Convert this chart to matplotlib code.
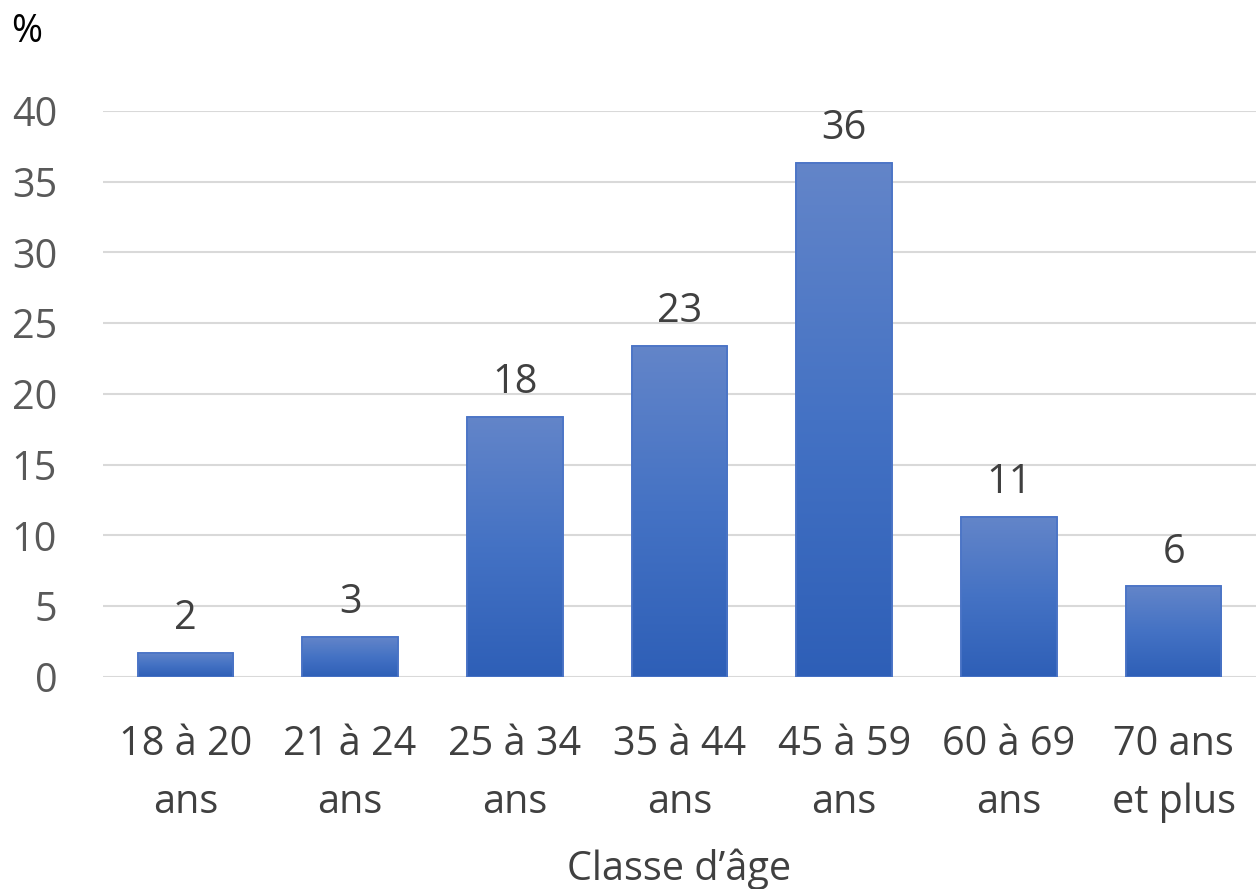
import numpy as np
import matplotlib.pyplot as plt
from matplotlib.colors import LinearSegmentedColormap

plt.rcParams['font.family'] = ['Open Sans', 'DejaVu Sans']

categories = ['18 à 20\nans', '21 à 24\nans', '25 à 34\nans', '35 à 44\nans',
              '45 à 59\nans', '60 à 69\nans', '70 ans\net plus']
values = [1.7, 2.8, 18.4, 23.4, 36.3, 11.3, 6.4]
labels = ['2', '3', '18', '23', '36', '11', '6']

fig = plt.figure(figsize=(12.56, 8.89), dpi=100)
ax = fig.add_axes([0.082, 0.2385, 0.918, 0.6367])

x = np.arange(len(categories))
bars = ax.bar(x, values, width=0.58, color='#4472c4', edgecolor='#4a74c6',
              linewidth=1.2, zorder=3)

# vertical gradient inside each bar
cmap = LinearSegmentedColormap.from_list('g', ['#2e5fb7', '#4472c4', '#6385c9'])
grad = np.linspace(0, 1, 256).reshape(-1, 1)
for b in bars:
    x0, w, h = b.get_x(), b.get_width(), b.get_height()
    im = ax.imshow(grad, cmap=cmap, origin='lower', aspect='auto',
                   extent=[x0, x0 + w, 0, h], zorder=3.5)
    im.set_clip_path(b)
    ax.bar(b.get_x() + w / 2, h, width=w, fill=False, edgecolor='#4a74c6',
           linewidth=1.2, zorder=4)

for xi, v, lab in zip(x, values, labels):
    ax.annotate(lab, (xi, v), xytext=(0, 10), textcoords='offset points',
                ha='center', va='bottom', fontsize=28.5, color='#404040')

ax.set_xlim(-0.5, len(categories) - 0.5)
ax.set_ylim(0, 40)
ax.set_yticks(range(0, 41, 5))
ax.set_xticks(x)
ax.set_xticklabels(categories, fontsize=28.5, color='#404040', linespacing=1.6)
ax.tick_params(axis='y', labelsize=28.5, labelcolor='#595959', length=0, pad=33)
ax.tick_params(axis='x', length=0, pad=34)
ax.grid(axis='y', color='#d9d9d9', linewidth=1.5, zorder=0)
for s in ax.spines.values():
    s.set_visible(False)
ax.axhline(0, color='#d9d9d9', linewidth=2, zorder=2)

ax.set_xlabel('Classe d’âge', fontsize=28.5, color='#404040', labelpad=18)
fig.text(0.009, 0.985, '%', fontsize=27, color='black', va='top', ha='left')

fig.savefig('out.png', dpi=100)
